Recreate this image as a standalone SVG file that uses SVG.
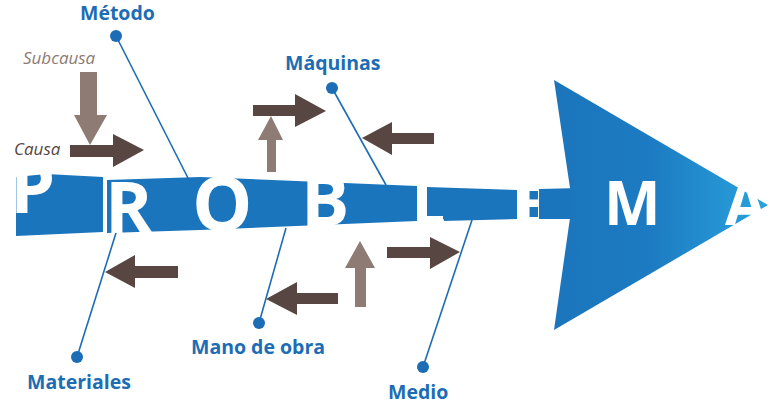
<svg xmlns="http://www.w3.org/2000/svg" width="770" height="405" viewBox="0 0 770 405">
<defs>
<linearGradient id="headGrad" x1="554" y1="0" x2="768" y2="0" gradientUnits="userSpaceOnUse">
<stop offset="0" stop-color="#1b75bc"/>
<stop offset="0.45" stop-color="#1c7bc2"/>
<stop offset="1" stop-color="#2aa3dd"/>
</linearGradient>
<style>
.band{fill:#1b75bc}
.big{font-family:"Open Sans","Liberation Sans",sans-serif;font-weight:700;fill:#ffffff}
.lbl{font-family:"Open Sans","Liberation Sans",sans-serif;font-weight:700;font-size:19.5px;fill:#1c6db5}
.ital{font-family:"Open Sans","Liberation Sans",sans-serif;font-style:italic;font-size:17px}
.dark{fill:#574641}
.light{fill:#8d7b74}
.bone{stroke:#1c6db5;stroke-width:1.6;fill:none}
.dot{fill:#1c6db5}
</style>
</defs>
<rect width="770" height="405" fill="#ffffff"/>

<g id="spine">
<polygon class="band" points="16,177 46,174 103,177 103,232 16,236"/>
<polygon class="band" points="107,180 200,177 417,186 417,221 200,230 107,233"/>
<polygon class="band" points="427,187 517,190 517,219 443,221 443,216 427,216"/>
<rect class="band" x="524" y="191" width="14" height="26"/>
<text class="big" x="10" y="213" font-size="72">P</text>
<text class="big" x="105" y="233" font-size="72">R</text>
<text class="big" x="192" y="231" font-size="76">O</text>
<text class="big" x="301" y="226" font-size="72">B</text>
<text class="big" x="412" y="227" font-size="60">L</text>
<text class="big" x="515" y="226" font-size="60">E</text>
<polygon class="band" points="539,189 580,188 580,219 539,219"/>
</g>

<g id="head">
<polygon fill="url(#headGrad)" points="554,80 768,205 554,330 570,218 570,188"/>
<text class="big" x="604" y="225" font-size="60">M</text>
<text class="big" x="725" y="225" font-size="60">A</text>
</g>

<g id="connectors">
<line class="bone" x1="116" y1="36" x2="189" y2="180"/>
<line class="bone" x1="332" y1="88" x2="386" y2="185"/>
<line class="bone" x1="116" y1="233" x2="77" y2="357"/>
<line class="bone" x1="286" y1="228" x2="259" y2="323"/>
<line class="bone" x1="472" y1="220" x2="423" y2="367"/>
<circle class="dot" cx="116" cy="36" r="6"/>
<circle class="dot" cx="332" cy="88" r="6"/>
<circle class="dot" cx="77" cy="357" r="6"/>
<circle class="dot" cx="259" cy="323" r="6"/>
<circle class="dot" cx="423" cy="367" r="6"/>
</g>

<g id="arrows">
<polygon class="light" points="80,72 97,72 97,115 107,115 90,145 74,115 80,115"/>
<polygon class="dark" points="70,145 113,145 113,134 144,150 113,167 113,157 70,157"/>
<polygon class="dark" points="253,105 295,105 295,94 326,111 295,127 295,116 253,116"/>
<polygon class="light" points="271,116 283,140 276,140 276,172 267,172 267,140 258,140"/>
<polygon class="dark" points="362,138 392,122 392,133 434,133 434,144 392,144 392,155"/>
<polygon class="dark" points="105,272 135,255 135,266 178,266 178,278 135,278 135,288"/>
<polygon class="dark" points="266,299 297,282 297,293 338,293 338,304 297,304 297,315"/>
<polygon class="light" points="360,241 375,268 366,268 366,307 355,307 355,268 345,268"/>
<polygon class="dark" points="387,247 430,247 430,237 460,252 430,269 430,258 387,258"/>
</g>

<g id="labels">
<text class="lbl" x="80" y="20">Método</text>
<text class="lbl" x="285" y="70">Máquinas</text>
<text class="lbl" x="27" y="389">Materiales</text>
<text class="lbl" x="191" y="354">Mano de obra</text>
<text class="lbl" x="388" y="399">Medio</text>
<text class="ital light" x="23" y="64">Subcausa</text>
<text class="ital dark" x="14" y="155">Causa</text>
</g>
</svg>
